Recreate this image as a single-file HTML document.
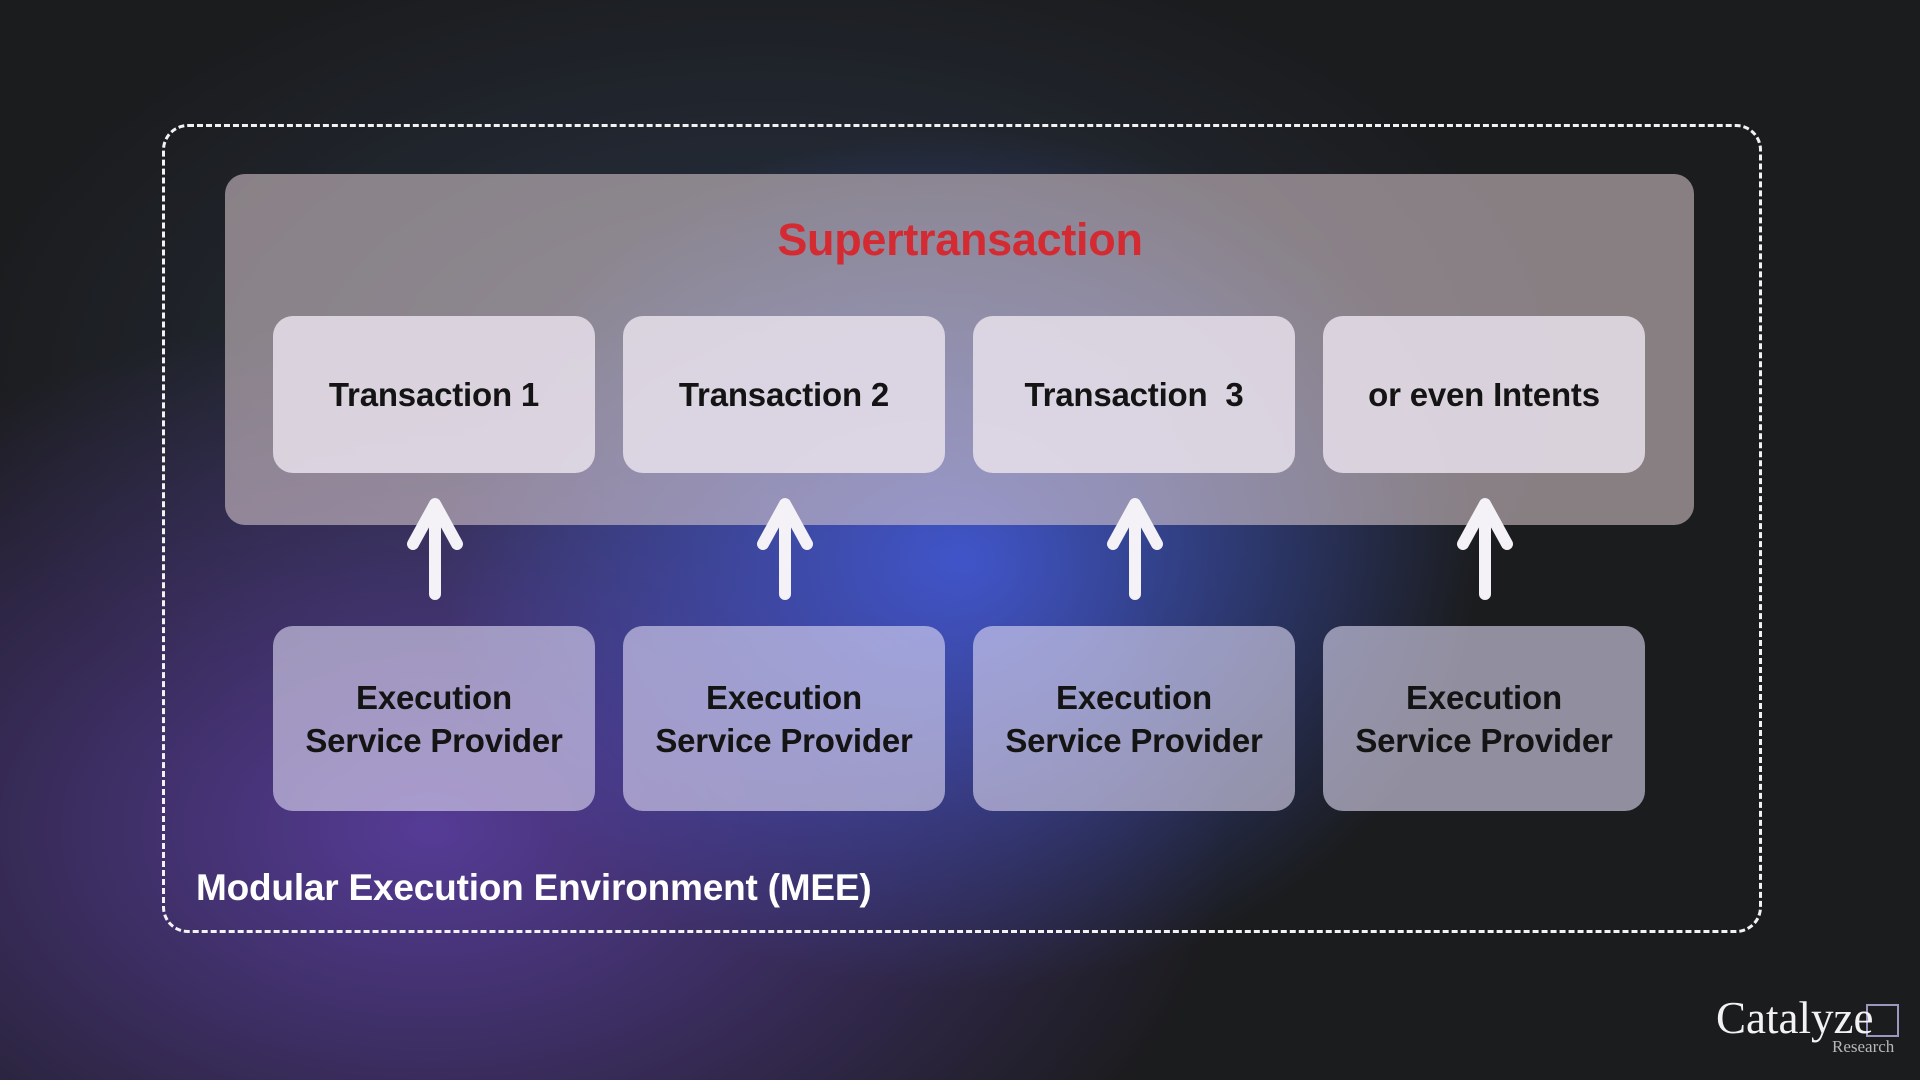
<!DOCTYPE html>
<html><head><meta charset="utf-8"><style>
*{margin:0;padding:0;box-sizing:border-box}
body{width:1920px;height:1080px;overflow:hidden;position:relative;font-family:"Liberation Sans",sans-serif;
background:
radial-gradient(ellipse 520px 430px at 960px 560px, rgba(70,95,235,0.8), rgba(70,95,235,0) 100%),
radial-gradient(ellipse 800px 520px at 430px 830px, rgba(105,70,190,0.75), rgba(105,70,190,0) 100%),
radial-gradient(ellipse 800px 450px at 760px 380px, rgba(55,75,110,0.5), rgba(55,75,110,0) 100%),
#1b1c1e;}
.dash{position:absolute;left:162px;top:124px;width:1600px;height:809px;border:3px dashed #f2f2f2;border-radius:26px}
.panel{position:absolute;left:225px;top:174px;width:1469px;height:351px;border-radius:20px;background:rgba(215,200,205,0.58)}
.title{position:absolute;left:0;width:1920px;top:214px;text-align:center;color:#d42a32;font-size:45px;font-weight:bold;letter-spacing:-0.3px}
.box{position:absolute;width:322px;border-radius:20px;display:flex;align-items:center;justify-content:center;text-align:center;color:#141414;font-weight:bold;font-size:33px;line-height:43px;letter-spacing:-0.2px}
.t{top:316px;height:157px;background:rgba(232,225,235,0.85)}
.e{top:626px;height:185px;background:rgba(225,220,245,0.6)}
.mee{position:absolute;left:196px;top:867px;color:#fff;font-size:37px;font-weight:bold;letter-spacing:-0.2px}
.logo{position:absolute;left:1716px;top:992px;color:#f2f2f2;font-family:"Liberation Serif",serif;font-size:45px}
.res{position:absolute;left:1832px;top:1037px;color:#b8b8b8;font-family:"Liberation Serif",serif;font-size:17px}
.sq{position:absolute;left:1866px;top:1004px;width:33px;height:33px;border:2px solid #9a98c0}
</style></head><body>
<div class="dash"></div>
<div class="panel"></div>
<div class="title">Supertransaction</div>
<div class="box t" style="left:273px">Transaction 1</div>
<div class="box t" style="left:623px">Transaction 2</div>
<div class="box t" style="left:973px">Transaction&nbsp; 3</div>
<div class="box t" style="left:1323px">or even Intents</div>
<div class="box e" style="left:273px">Execution<br>Service Provider</div>
<div class="box e" style="left:623px">Execution<br>Service Provider</div>
<div class="box e" style="left:973px">Execution<br>Service Provider</div>
<div class="box e" style="left:1323px">Execution<br>Service Provider</div>
<svg width="1920" height="1080" style="position:absolute;left:0;top:0">
<g stroke="#f4f2f6" stroke-width="12" stroke-linecap="round" stroke-linejoin="round" fill="none">
<path d="M435 594 V506 M413 544 L435 504 L457 544"/>
<path d="M785 594 V506 M763 544 L785 504 L807 544"/>
<path d="M1135 594 V506 M1113 544 L1135 504 L1157 544"/>
<path d="M1485 594 V506 M1463 544 L1485 504 L1507 544"/>
</g></svg>
<div class="mee">Modular Execution Environment (MEE)</div>
<div class="sq"></div>
<div class="logo">Catalyze</div>
<div class="res">Research</div>
</body></html>
